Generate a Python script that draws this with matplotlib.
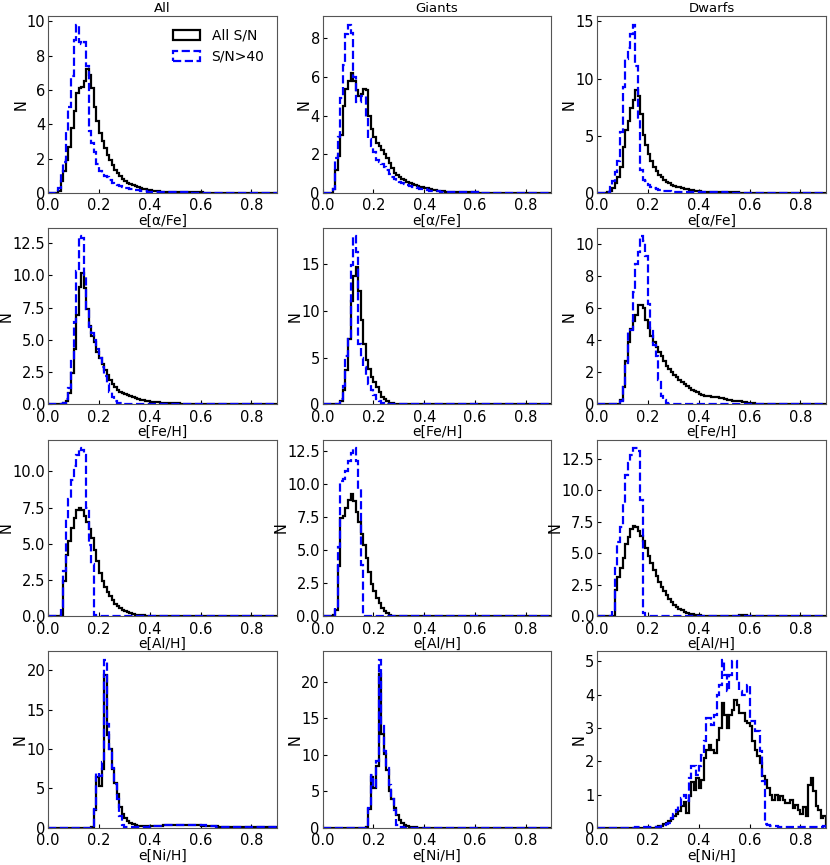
import numpy as np
import matplotlib
matplotlib.use('Agg')
import matplotlib.pyplot as plt

# histogram bins: 0.01 wide from 0.0 to 0.9
NBINS = 90
bin_edges = np.round(np.linspace(0.0, 0.9, NBINS + 1), 2)
bin_centers = 0.5 * (bin_edges[:-1] + bin_edges[1:])

columns = ['All', 'Giants', 'Dwarfs']
xlabels = ['e[\u03b1/Fe]', 'e[Fe/H]', 'e[Al/H]', 'e[Ni/H]']
series_labels = ['All S/N', 'S/N>40']

# counts per bin, starting at the 0.00 bin (bins not listed are empty)
# ---- e[alpha/Fe]
afe_all_all = [0, 0, 0, 0, 0.1, 0.7, 1.3, 1.9, 2.7, 3.8, 4.8, 5.8, 6.1, 6.2, 6.5, 7.2, 6.9, 6.1, 5.0, 4.2,
               3.5, 3.0, 2.6, 2.2, 1.9, 1.6, 1.35, 1.15, 0.98, 0.83, 0.7, 0.6, 0.52, 0.45, 0.39, 0.33, 0.28,
               0.24, 0.2, 0.17, 0.14, 0.12, 0.1, 0.085, 0.07, 0.06, 0.05, 0.045, 0.04, 0.035, 0.03, 0.025,
               0.025, 0.025, 0.025, 0.025, 0.02, 0.02, 0.02, 0.02, 0.02, 0.015, 0.015, 0.015, 0.015, 0.015,
               0.015, 0.015, 0.015, 0.015, 0.015, 0.01, 0.01, 0.01, 0.01, 0.01, 0.01, 0.01, 0.01, 0.01, 0.01]
afe_all_hi = [0, 0, 0, 0.05, 0.3, 1.2, 1.8, 3.6, 5.0, 6.8, 8.9, 9.8, 8.8, 8.7, 8.8, 7.4, 3.6, 2.9, 2.4, 1.7,
              1.3, 1.15, 1.0, 0.9, 0.75, 0.6, 0.5, 0.45, 0.4, 0.35, 0.3, 0.27, 0.24, 0.2, 0.17, 0.14, 0.12,
              0.1, 0.08, 0.07, 0.06, 0.05, 0.04, 0.03, 0.03, 0.03, 0.03, 0.03, 0.02, 0.02, 0.02, 0.02, 0.02,
              0.02, 0.02, 0.02, 0.01, 0.01, 0.01, 0.01, 0.01, 0.01, 0.01, 0.01, 0.01, 0.01]
afe_giant_all = [0, 0, 0, 0, 0.2, 1.2, 1.9, 3.0, 4.5, 5.4, 5.8, 6.2, 5.8, 5.3, 5.0, 5.1, 5.4, 5.3, 4.0, 3.3,
                 2.9, 2.6, 2.4, 2.2, 2.0, 1.8, 1.55, 1.3, 1.05, 0.9, 0.8, 0.72, 0.65, 0.58, 0.5, 0.45, 0.4,
                 0.36, 0.32, 0.3, 0.27, 0.23, 0.2, 0.17, 0.14, 0.11, 0.09, 0.07, 0.06, 0.05, 0.04, 0.03, 0.03,
                 0.03, 0.03, 0.03, 0.02, 0.02, 0.02, 0.02, 0.02, 0.01, 0.01, 0.01, 0.01, 0.01, 0.01, 0.01,
                 0.01, 0.01, 0.01]
afe_giant_hi = [0, 0, 0, 0, 0.2, 1.8, 2.9, 4.9, 6.6, 8.2, 8.7, 8.3, 6.0, 4.7, 4.7, 5.0, 5.0, 3.9, 2.8, 2.4,
                2.1, 1.7, 1.6, 1.5, 1.35, 1.2, 1.0, 0.8, 0.7, 0.6, 0.55, 0.5, 0.45, 0.4, 0.35, 0.3, 0.28,
                0.25, 0.22, 0.2, 0.18, 0.15, 0.12, 0.1, 0.08, 0.07, 0.06, 0.05, 0.04, 0.04, 0.04, 0.04, 0.03,
                0.03, 0.03, 0.03, 0.02, 0.02, 0.02, 0.02, 0.02, 0.01, 0.01, 0.01, 0.01, 0.01, 0.01, 0.01]
afe_dwarf_all = [0, 0, 0, 0, 0.05, 0.2, 0.4, 0.9, 1.4, 2.3, 4.0, 5.5, 6.3, 7.4, 8.1, 9.0, 8.5, 6.9, 5.1, 4.2,
                 3.4, 2.8, 2.3, 1.9, 1.6, 1.35, 1.15, 0.98, 0.83, 0.7, 0.62, 0.55, 0.48, 0.42, 0.37, 0.32,
                 0.27, 0.23, 0.19, 0.15, 0.12, 0.1, 0.08, 0.07, 0.06, 0.05, 0.04, 0.04, 0.04, 0.04, 0.04,
                 0.03, 0.03, 0.03, 0.03, 0.03, 0.02, 0.02, 0.02, 0.02, 0.02, 0.02, 0.02, 0.02, 0.02, 0.02,
                 0.01, 0.01, 0.01, 0.01, 0.01, 0.01, 0.01, 0.01, 0.01, 0.01]
afe_dwarf_hi = [0, 0, 0, 0, 0.1, 0.5, 1.0, 1.8, 2.8, 5.3, 9.3, 11.7, 12.7, 13.9, 14.7, 11.1, 6.5, 2.0, 1.1,
                1.0, 0.7, 0.5, 0.4, 0.3, 0.25, 0.2, 0.17, 0.14, 0.12, 0.1, 0.08, 0.07, 0.06, 0.05, 0.04,
                0.04, 0.04, 0.04, 0.04, 0.04, 0.04, 0.03, 0.03, 0.03, 0.03, 0.03, 0.03, 0.03, 0.03, 0.03,
                0.03, 0.02, 0.02, 0.02, 0.02, 0.02, 0.02, 0.02, 0.02, 0.02, 0.02, 0.01, 0.01, 0.01, 0.01]

# ---- e[Fe/H]
feh_all_all = [0, 0, 0, 0, 0, 0, 0.1, 0.3, 0.9, 2.4, 4.3, 6.9, 9.1, 10.2, 9.0, 7.4, 6.1, 5.3, 4.8, 4.1, 3.6,
               3.1, 2.7, 2.3, 1.9, 1.6, 1.35, 1.15, 1.0, 0.88, 0.78, 0.7, 0.62, 0.55, 0.48, 0.42, 0.37, 0.32,
               0.28, 0.25, 0.22, 0.2, 0.18, 0.16, 0.15, 0.14, 0.13, 0.12, 0.11, 0.1, 0.09, 0.08, 0.07, 0.06,
               0.05, 0.045, 0.04, 0.035, 0.03, 0.025, 0.02, 0.015, 0.015, 0.015, 0.015, 0.015, 0.015, 0.015,
               0.015, 0.015, 0.015, 0.01, 0.01, 0.01, 0.01, 0.01, 0.01, 0.01, 0.01, 0.01, 0.01]
feh_all_hi = [0, 0, 0, 0, 0, 0, 0.1, 0.4, 1.3, 3.4, 6.4, 10.3, 13.0, 12.9, 10.0, 7.4, 6.0, 5.5, 5.0, 4.3,
              3.6, 2.9, 2.2, 1.6, 1.0, 0.6, 0.3, 0.15, 0.08, 0.05, 0.03, 0.02, 0.02, 0.02, 0.02, 0.02,
              0.02, 0.02, 0.02, 0.02, 0.02, 0.01, 0.01, 0.01, 0.01, 0.01, 0.01, 0.01, 0.01, 0.01, 0.01]
feh_giant_all = [0, 0, 0, 0, 0, 0, 0.1, 0.4, 1.5, 3.7, 7.0, 11.1, 13.8, 14.7, 12.2, 9.0, 6.5, 4.8, 3.8, 2.9,
                 2.4, 1.85, 1.3, 0.85, 0.55, 0.35, 0.2, 0.12, 0.07, 0.05, 0.03, 0.02, 0.02, 0.02, 0.02,
                 0.02, 0.01, 0.01, 0.01, 0.01, 0.01, 0.01, 0.01, 0.01, 0.01, 0.01]
feh_giant_hi = [0, 0, 0, 0, 0, 0, 0, 0.6, 2.0, 5.2, 7.0, 14.9, 18.0, 16.3, 6.5, 5.0, 4.0, 3.0, 2.2, 1.5,
                1.0, 0.6, 0.35, 0.2, 0.1, 0.05, 0.03, 0.01, 0.01, 0.01, 0.01, 0.01, 0.01, 0.01, 0.01, 0.01]
feh_dwarf_all = [0, 0, 0, 0, 0, 0, 0, 0, 0, 0.3, 1.1, 2.7, 3.9, 4.7, 5.2, 5.6, 6.2, 6.2, 6.0, 5.3, 4.8,
                 4.3, 3.9, 3.6, 3.3, 3.0, 2.7, 2.4, 2.2, 2.0, 1.85, 1.7, 1.55, 1.4, 1.3, 1.15, 1.0, 0.92,
                 0.85, 0.75, 0.65, 0.6, 0.55, 0.52, 0.5, 0.48, 0.46, 0.45, 0.42, 0.38, 0.34, 0.3, 0.26,
                 0.23, 0.21, 0.2, 0.2, 0.18, 0.15, 0.12, 0.09, 0.07, 0.05, 0.03, 0.02, 0.01]
feh_dwarf_hi = [0, 0, 0, 0, 0, 0, 0, 0, 0, 0.2, 1.1, 2.6, 4.65, 4.65, 7.0, 8.8, 9.5, 10.5, 10.2, 9.3, 6.3,
                4.6, 3.7, 3.0, 1.5, 0.55, 0.25, 0.12, 0.05, 0.03, 0.01, 0.01, 0.01, 0.01, 0.01, 0.01,
                0.01, 0.01, 0.01, 0.01, 0.01]

# ---- e[Al/H]
alh_all_all = [0, 0, 0, 0, 0, 0.1, 2.4, 4.2, 5.2, 6.1, 6.8, 7.35, 7.5, 7.3, 6.9, 6.5, 6.0, 5.4, 4.6, 3.8,
               3.0, 2.4, 2.0, 1.65, 1.4, 1.1, 0.87, 0.7, 0.55, 0.44, 0.35, 0.27, 0.2, 0.15, 0.11, 0.08,
               0.06, 0.045, 0.035, 0.025, 0.02, 0.02, 0.02, 0.02, 0.02, 0.02, 0.01, 0.01, 0.01, 0.01,
               0.01, 0.01, 0.01, 0.01, 0.01, 0.01, 0.01, 0.01, 0.01, 0.01, 0.01]
alh_all_hi = [0, 0, 0, 0, 0, 0.6, 3.1, 6.7, 8.1, 9.4, 10.4, 11.1, 11.6, 11.5, 11.1, 7.5, 4.9, 3.6, 0.1,
              0.02, 0.01, 0.01, 0.01, 0.01, 0.01, 0.01, 0.01, 0.01, 0.01, 0.01, 0.01]
alh_giant_all = [0, 0, 0, 0, 0.1, 0.5, 3.8, 7.45, 7.6, 8.2, 8.8, 9.2, 8.7, 7.9, 7.1, 6.2, 5.4, 4.4, 3.3,
                 2.4, 1.9, 1.4, 1.0, 0.6, 0.4, 0.2, 0.08, 0.03, 0.02, 0.01, 0.01, 0.01, 0.01, 0.01, 0.01,
                 0.01]
alh_giant_hi = [0, 0, 0, 0, 0.1, 0.6, 5.2, 10.2, 10.4, 11.0, 11.7, 12.3, 12.7, 11.7, 9.6, 3.9, 0.03, 0.01,
                0.01, 0.01, 0.01, 0.01, 0.01, 0.01, 0.01, 0.01]
alh_dwarf_all = [0, 0, 0, 0, 0, 0, 0.05, 2.1, 3.1, 3.8, 4.6, 5.7, 6.3, 6.9, 7.2, 7.1, 6.8, 6.4, 6.0, 5.4,
                 4.8, 4.2, 3.7, 3.2, 2.75, 2.35, 2.0, 1.7, 1.4, 1.15, 0.92, 0.73, 0.58, 0.45, 0.34, 0.26,
                 0.2, 0.15, 0.11, 0.08, 0.06, 0.05, 0.04, 0.03, 0.03, 0.03, 0.03, 0.03, 0.03, 0.03, 0.03,
                 0.03, 0.03, 0.03, 0.03, 0.03, 0.06, 0.06, 0.06, 0.02, 0.02, 0.02, 0.02, 0.02, 0.02, 0.02,
                 0.02, 0.02, 0.02, 0.02, 0.02, 0.01, 0.01, 0.01, 0.01, 0.01, 0.01, 0.01, 0.01, 0.01]
alh_dwarf_hi = [0, 0, 0, 0, 0, 0, 0.45, 3.8, 5.9, 7.1, 8.9, 11.2, 12.2, 12.8, 13.35, 13.35, 13.1, 9.25,
                0.25, 0.05, 0.02, 0.02, 0.02, 0.02, 0.02, 0.02, 0.02, 0.02, 0.02, 0.02, 0.01, 0.01, 0.01,
                0.01, 0.01, 0.01, 0.01, 0.01, 0.01, 0.01, 0.01]

# ---- e[Ni/H]
nih_all_all = [0, 0, 0, 0, 0, 0, 0, 0, 0, 0, 0, 0, 0, 0, 0, 0, 0, 0.05, 2.3, 6.4, 5.3, 7.4, 19.4, 11.8,
               10.0, 7.5, 5.7, 4.3, 2.7, 1.8, 1.2, 0.85, 0.6, 0.45, 0.32, 0.25, 0.2, 0.18, 0.17, 0.17,
               0.18, 0.2, 0.22, 0.25, 0.27, 0.3, 0.3, 0.32, 0.33, 0.35, 0.35, 0.36, 0.36, 0.36, 0.35, 0.35,
               0.34, 0.33, 0.32, 0.3, 0.28, 0.27, 0.25, 0.23, 0.21, 0.2, 0.18, 0.16, 0.15, 0.14, 0.13,
               0.12, 0.11, 0.1, 0.1, 0.09, 0.09, 0.08, 0.08, 0.08, 0.08, 0.08, 0.1, 0.13, 0.15, 0.12,
               0.08, 0.06, 0.05, 0.05]
nih_all_hi = [0, 0, 0, 0, 0, 0, 0, 0, 0, 0, 0, 0, 0, 0, 0, 0, 0, 0, 2.4, 6.9, 6.6, 8.3, 21.3, 13.2, 10.0,
              7.6, 5.5, 3.6, 1.5, 0.3, 0.12, 0.08, 0.06, 0.06, 0.06, 0.07, 0.08, 0.1, 0.12, 0.15, 0.18,
              0.2, 0.23, 0.26, 0.28, 0.3, 0.32, 0.34, 0.36, 0.37, 0.38, 0.39, 0.4, 0.4, 0.4, 0.4, 0.39,
              0.38, 0.36, 0.34, 0.32, 0.3, 0.27, 0.24, 0.21, 0.18, 0.15, 0.12, 0.1, 0.08, 0.06, 0.06,
              0.06, 0.06, 0.06, 0.06, 0.06, 0.06, 0.06, 0.06, 0.06, 0.06, 0.08, 0.1, 0.12, 0.1, 0.05,
              0.05, 0.05, 0.05]
nih_giant_all = [0, 0, 0, 0, 0, 0, 0, 0, 0, 0, 0, 0, 0, 0, 0, 0, 0, 0.05, 2.6, 7.0, 5.4, 8.5, 21.0, 12.9,
                 10.1, 7.9, 5.0, 3.9, 2.7, 1.8, 1.1, 0.7, 0.4, 0.22, 0.12, 0.07, 0.05, 0.04, 0.03, 0.03,
                 0.03, 0.03, 0.03, 0.03, 0.03, 0.03, 0.02, 0.02, 0.02, 0.02, 0.02, 0.02, 0.02, 0.02, 0.02,
                 0.02, 0.01, 0.01, 0.01, 0.01, 0.01, 0.01, 0.01, 0.01, 0.01, 0.01, 0.01, 0.01, 0.01, 0.01,
                 0.01]
nih_giant_hi = [0, 0, 0, 0, 0, 0, 0, 0, 0, 0, 0, 0, 0, 0, 0, 0, 0, 0, 2.7, 7.2, 5.6, 9.1, 23.0, 14.0, 10.5,
                8.2, 5.9, 3.9, 2.5, 0.45, 0.1, 0.05, 0.03, 0.03, 0.03, 0.03, 0.03, 0.03, 0.03, 0.03, 0.03,
                0.03, 0.03, 0.03, 0.03, 0.03, 0.02, 0.02, 0.02, 0.02, 0.02, 0.02, 0.02, 0.02, 0.02, 0.02,
                0.02, 0.02, 0.02, 0.02, 0.02, 0.01, 0.01, 0.01, 0.01, 0.01, 0.01, 0.01, 0.01, 0.01, 0.01]
nih_dwarf_all = [0, 0, 0, 0, 0, 0, 0, 0, 0, 0, 0, 0, 0, 0, 0, 0, 0, 0, 0, 0, 0, 0, 0, 0.02, 0.04, 0.06,
                 0.1, 0.15, 0.2, 0.25, 0.35, 0.4, 0.5, 0.65, 0.77, 0.45, 0.95, 1.38, 1.15, 1.5, 1.2, 1.45,
                 2.1, 2.35, 2.5, 2.35, 2.25, 2.65, 3.0, 3.75, 3.4, 3.0, 3.4, 3.55, 3.85, 3.7, 3.45, 3.45,
                 3.2, 3.15, 3.05, 2.6, 2.35, 2.15, 1.95, 1.55, 1.45, 1.2, 1.0, 0.85, 1.0, 0.85, 0.95, 0.85,
                 0.75, 0.75, 0.83, 0.6, 0.7, 0.55, 0.4, 0.63, 0.35, 1.3, 1.5, 1.1, 0.65, 0.55, 0.3, 0.35]
nih_dwarf_hi = [0, 0, 0, 0, 0, 0, 0, 0, 0, 0, 0, 0, 0, 0, 0, 0.02, 0.02, 0.02, 0.02, 0.02, 0.02, 0.02,
                0.02, 0.02, 0.03, 0.05, 0.07, 0.1, 0.15, 0.3, 0.4, 0.55, 0.7, 0.9, 1.0, 0.8, 1.5, 1.85, 1.85,
                1.6, 1.85, 2.2, 2.6, 3.3, 3.3, 3.1, 3.4, 4.0, 4.3, 5.05, 4.6, 4.1, 4.6, 5.0, 5.0, 4.4, 4.1,
                4.0, 4.0, 4.3, 3.2, 3.2, 2.9, 2.9, 2.3, 1.4, 0.12, 0.08, 0.06, 0.05, 0.04, 0.03, 0.03,
                0.03, 0.03, 0.03, 0.03, 0.03, 0.03, 0.03, 0.03, 0.03, 0.03, 0.03, 0.03, 0.03, 0.03, 0.03,
                0.03, 0.05]

# rows = abundance error, columns = All / Giants / Dwarfs, pair = (all S/N, S/N>40)
panels = [
    [(afe_all_all, afe_all_hi), (afe_giant_all, afe_giant_hi), (afe_dwarf_all, afe_dwarf_hi)],
    [(feh_all_all, feh_all_hi), (feh_giant_all, feh_giant_hi), (feh_dwarf_all, feh_dwarf_hi)],
    [(alh_all_all, alh_all_hi), (alh_giant_all, alh_giant_hi), (alh_dwarf_all, alh_dwarf_hi)],
    [(nih_all_all, nih_all_hi), (nih_giant_all, nih_giant_hi), (nih_dwarf_all, nih_dwarf_hi)],
]


def full_counts(vals):
    # empty bins after the last listed one
    vals = np.asarray(vals, dtype=float)
    return np.concatenate([vals, np.zeros(NBINS - len(vals))])


fig, axes = plt.subplots(4, 3, figsize=(8.3, 8.65), dpi=100)
fig.subplots_adjust(left=0.058, right=0.995, bottom=0.043, top=0.981, wspace=0.2, hspace=0.2)

for r in range(4):
    for c in range(3):
        ax = axes[r, c]
        n_all = full_counts(panels[r][c][0])
        n_hi = full_counts(panels[r][c][1])
        ax.hist(bin_centers, bins=bin_edges, weights=n_all, histtype='step',
                color='k', lw=1.6, label=series_labels[0])
        ax.hist(bin_centers, bins=bin_edges, weights=n_hi, histtype='step',
                color='b', lw=1.6, ls='--', label=series_labels[1])
        ax.set_xlim(0, 0.9)
        ax.set_ylim(0, 1.05 * max(n_all.max(), n_hi.max()))
        ax.set_xticks([0.0, 0.2, 0.4, 0.6, 0.8])
        ax.tick_params(direction='in', length=3, labelsize=10.5)
        ax.tick_params(axis='x', pad=4)
        ax.tick_params(axis='y', pad=2)
        ax.set_xlabel(xlabels[r], fontsize=10, labelpad=0)
        ax.set_ylabel('N', fontsize=10.5, labelpad=-1)
        if r == 0:
            ax.set_title(columns[c], fontsize=9.5, pad=3)
        for sp in ax.spines.values():
            sp.set_color('#555555')

axes[0, 0].legend(loc='upper right', frameon=False, fontsize=10)

plt.savefig('out.png', dpi=100)
